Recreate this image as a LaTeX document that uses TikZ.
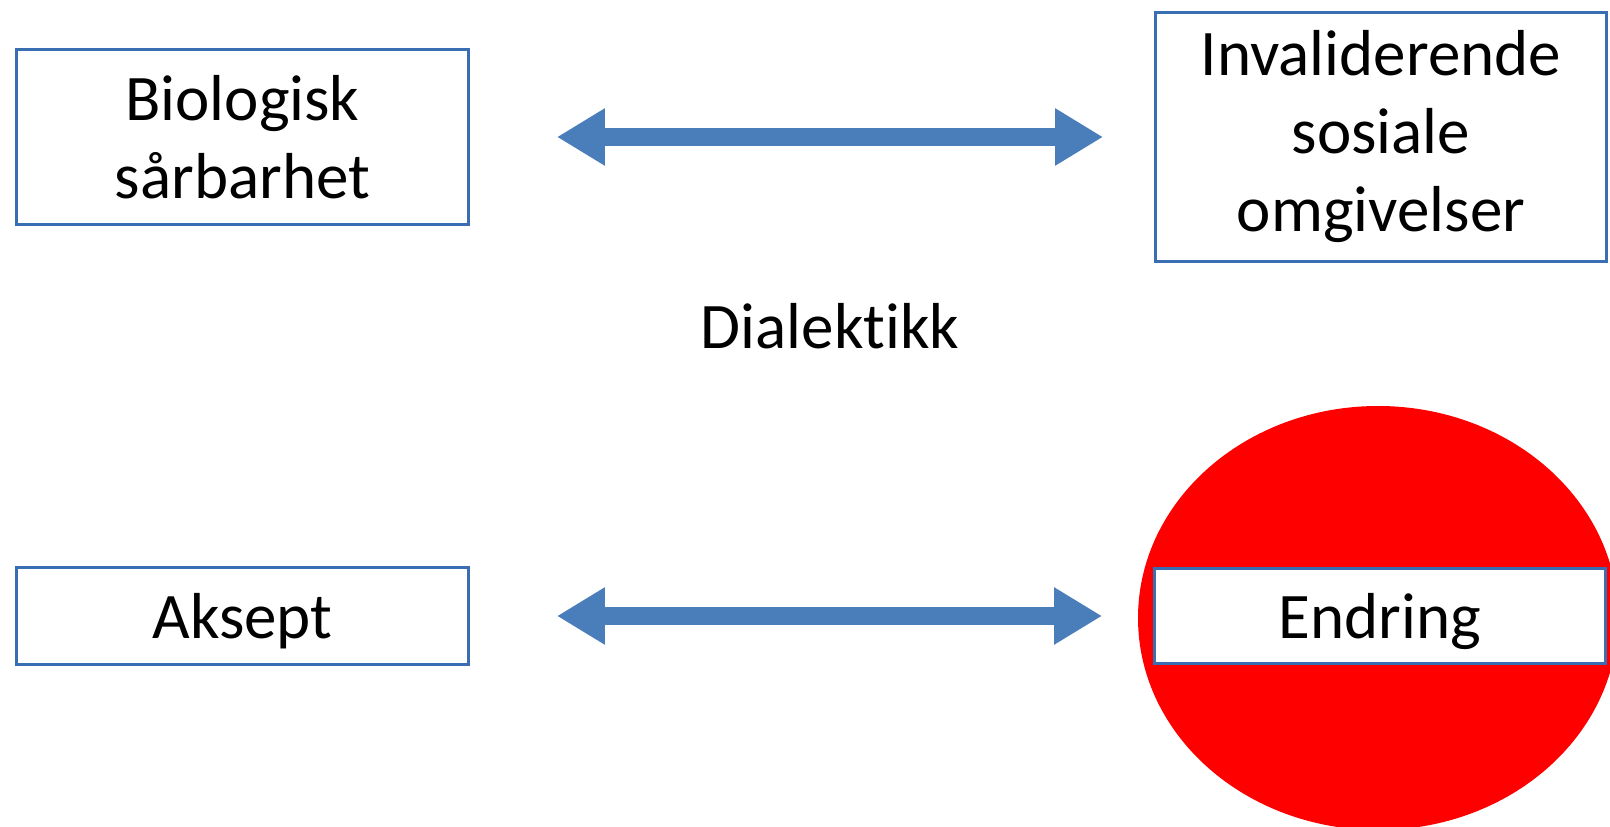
\documentclass[tikz,border=0pt]{standalone}
\usepackage{fontspec}
\setmainfont[Ligatures={TeX,NoCommon}]{Carlito}
\usepackage{xcolor}
\usetikzlibrary{arrows, arrows.meta}

\definecolor{boxblue}{HTML}{3A6EB3}
\definecolor{arrowblue}{HTML}{4A7EBB}

\tikzset{
  textbox/.style={draw=boxblue, line width=0.06cm, fill=white, align=center,
    inner sep=0pt, outer sep=0pt, font=\fontsize{37}{44.4}\selectfont},
  dblarrow/.style={draw=arrowblue, line width=0.36cm,
    {Triangle[length=0.96cm,width=1.08cm]}-{Triangle[length=0.96cm,width=1.08cm]},
    shorten <=1.76cm, shorten >=1.04cm},
}

\begin{document}
\begin{tikzpicture}[x=0.02cm, y=-0.02cm]
\useasboundingbox (0,0) rectangle (1610,827);
%\draw[step=100,gray,very thin] (0,0) grid (1610,827); %background grid
\begin{scope}
\clip (0,0) rectangle (1610,827);
\fill[red] (1378,618) ellipse [x radius=240, y radius=212];
\end{scope}
\node[textbox, minimum width=9.06cm, minimum height=3.52cm] (bio) at (242.5,137) {Biologisk\\sårbarhet};
\node[textbox, minimum width=9.04cm, minimum height=5.0cm] (inv) at (1381,137) {Invaliderende\\sosiale\\omgivelser};
\node[textbox, text depth=0pt, minimum width=9.06cm, minimum height=1.94cm] (aks) at (242.5,616) {Aksept};
\node[textbox, text depth=0pt, minimum width=9.04cm, minimum height=1.92cm] (endr) at (1380,616) {Endring};
\node[anchor=base, font=\fontsize{37}{44.4}\selectfont] (dia) at (830,349) {Dialektikk};
\draw[dblarrow] (bio.east) -- (bio.east -| inv.west);
\draw[dblarrow] (aks.east) -- (endr.west);
\end{tikzpicture}
\end{document}
